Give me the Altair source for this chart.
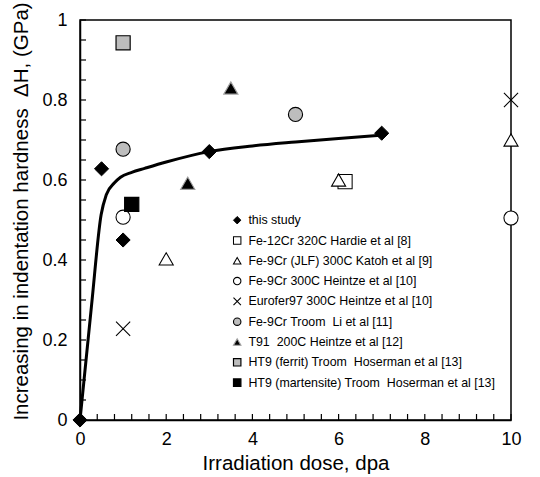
import altair as alt
import pandas as pd

# ---- data ----
series_names = [
    "this study",
    "Fe-12Cr 320C Hardie et al [8]",
    "Fe-9Cr (JLF) 300C Katoh et al [9]",
    "Fe-9Cr 300C Heintze et al [10]",
    "Eurofer97 300C Heintze et al [10]",
    "Fe-9Cr Troom \u00a0Li et al [11]",
    "T91 \u00a0200C Heintze et al [12]",
    "HT9 (ferrit) Troom \u00a0Hoserman et al [13]",
    "HT9 (martensite) Troom \u00a0Hoserman et al [13]",
]
dose_values = [
    [0, 0.5, 1, 3, 7],
    [6.15],
    [2, 6, 10],
    [1, 10],
    [1, 10],
    [1, 5],
    [2.5, 3.5],
    [1],
    [1.2],
]
hardness_values = [
    [0, 0.628, 0.45, 0.671, 0.717],
    [0.596],
    [0.403, 0.60, 0.70],
    [0.507, 0.505],
    [0.228, 0.80],
    [0.677, 0.764],
    [0.592, 0.83],
    [0.943],
    [0.539],
]
fit_dose = [0, 0.27, 0.49, 0.61, 0.8, 0.94, 1.2, 1.5, 2, 3, 4, 5, 6, 7]
fit_hardness = [0, 0.289, 0.513, 0.563, 0.593, 0.607, 0.619, 0.629, 0.645, 0.671, 0.685, 0.695, 0.704, 0.712]

x_labels = [0, 2, 4, 6, 8, 10]
y_labels = [0, 0.2, 0.4, 0.6, 0.8, 1]
x_minor = [round(i * 0.4, 2) for i in range(26)]
y_minor = [round(i * 0.05, 2) for i in range(21)]

# ---- styles ----
shapes = ["diamond", "square", "triangle-up", "circle", "M-1,-1L1,1M1,-1L-1,1",
          "circle", "triangle-up", "square", "square"]
fills = ["black", "white", "white", "white", "transparent",
         "#bdbdbd", "black", "#bdbdbd", "black"]
strokes = ["black", "black", "black", "black", "black",
           "black", "#a0a0a0", "black", "black"]
stroke_widths = [1, 1.2, 1.2, 1.2, 3, 1.2, 3, 1.5, 1]

rows = []
for name, xs, ys in zip(series_names, dose_values, hardness_values):
    for xv, yv in zip(xs, ys):
        rows.append({"series": name, "dose": xv, "dH": yv})
df = pd.DataFrame(rows)
fit_df = pd.DataFrame({"dose": fit_dose, "dH": fit_hardness})
xt_df = pd.DataFrame({"dose": x_minor})
yt_df = pd.DataFrame({"dH": y_minor})

FONT = "Liberation Sans"
W, H = 431, 400
TICK = 6
xs_ = alt.Scale(domain=[0, 10], nice=False, zero=False)
ys_ = alt.Scale(domain=[0, 1], nice=False, zero=False)

x_axis = alt.Axis(orient="bottom", values=x_labels, ticks=False, labelPadding=10,
                  labelFlush=False, format="d", title="Irradiation dose, dpa",
                  titlePadding=5, titleFontSize=20.5, grid=False)
y_axis = alt.Axis(orient="left", values=y_labels, ticks=False, labelPadding=13,
                  labelFlush=False, format="~g",
                  title="Increasing in indentation hardness \u00a0\u0394H, (GPa)",
                  titlePadding=10, titleFontSize=20.5, titleY=H / 2 - 9, grid=False)

line = alt.Chart(fit_df).mark_line(color="black", strokeWidth=3, interpolate="monotone").encode(
    x=alt.X("dose:Q", scale=xs_, axis=x_axis),
    y=alt.Y("dH:Q", scale=ys_, axis=y_axis),
)

# inward-pointing axis ticks (drawn at the tick values through the scales)
x_ticks = alt.Chart(xt_df).mark_rule(color="black", strokeWidth=1.2).encode(
    x=alt.X("dose:Q", scale=xs_, axis=x_axis),
    y=alt.value(H), y2=alt.value(H - TICK),
)
y_ticks = alt.Chart(yt_df).mark_rule(color="black", strokeWidth=1.2).encode(
    y=alt.Y("dH:Q", scale=ys_, axis=y_axis),
    x=alt.value(0), x2=alt.value(TICK),
)

leg = alt.Legend(title=None)
points = alt.Chart(df).mark_point(size=200, opacity=1, filled=False).encode(
    x=alt.X("dose:Q", scale=xs_, axis=x_axis),
    y=alt.Y("dH:Q", scale=ys_, axis=y_axis),
    shape=alt.Shape("series:N", scale=alt.Scale(domain=series_names, range=shapes), legend=leg),
    fill=alt.Fill("series:N", scale=alt.Scale(domain=series_names, range=fills), legend=leg),
    stroke=alt.Stroke("series:N", scale=alt.Scale(domain=series_names, range=strokes), legend=leg),
    strokeWidth=alt.StrokeWidth("series:N", scale=alt.Scale(domain=series_names, range=stroke_widths), legend=leg),
)

chart = alt.layer(line, x_ticks, y_ticks, points).properties(
    width=W, height=H,
    padding={"left": 80, "top": 20, "right": 29, "bottom": 57},
    autosize="none",
).configure_view(stroke="black", strokeWidth=1.5).configure_axis(
    labelFont=FONT, titleFont=FONT, labelFontSize=18,
    labelColor="black", titleColor="black", titleFontWeight="normal",
    domainColor="black", domainWidth=1.5, tickColor="black", tickWidth=1,
).configure_legend(
    orient="none", legendX=151, legendY=194, labelFont=FONT, labelFontSize=12.4,
    labelColor="black", symbolSize=55, rowPadding=7.3, labelOffset=5, padding=0,
    labelLimit=400,
)

chart.save("out.html", embed_options={"renderer": "svg", "actions": False})
